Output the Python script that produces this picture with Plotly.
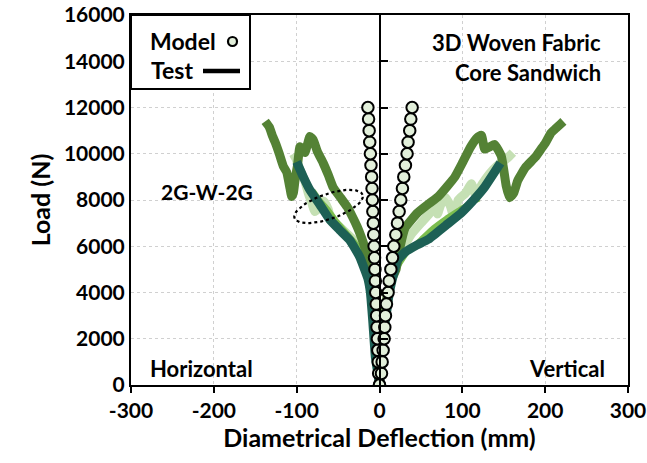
import math
import plotly.graph_objects as go

# ---------------- data ----------------
model_load = [i * 500 for i in range(25)]
model_horiz = [0, -1, -1.5, -2, -2.5, -3, -3.5, -4, -4.5, -5, -5.5, -6, -6.5, -7, -7.5, -8,
               -8.5, -9, -9.5, -10.3, -11, -11.8, -12.5, -13.2, -14]
model_vert = [0, 2.4, 3.2, 4.4, 5.6, 6.4, 7.2, 8.4, 10.4, 11.6, 13.7, 15.7, 17.3, 19.7, 21.7,
              23.7, 25.7, 27.7, 29.3, 31.3, 33.3, 34.5, 36.5, 37.8, 39.4]

# test series (x = deflection mm, y = load N)
light_h_x = [0, -2, -5, -9, -14, -20, -28, -38, -50, -58, -62, -67, -72, -78, -82, -86, -90, -96, -101, -104]
light_h_y = [0, 1000, 2500, 4000, 5000, 5600, 6150, 6500, 6900, 7100, 7600, 7950, 7700, 7500, 7900, 8300, 8800, 9300, 9800, 10000]
light_v_x = [0, 3, 7, 12, 18, 26, 38, 50, 60, 66, 70, 74, 80, 86, 90, 95, 104, 111, 117, 121, 128, 137, 146, 154, 161]
light_v_y = [0, 1500, 3000, 4200, 5000, 5700, 6500, 7000, 7400, 7700, 7400, 7800, 8100, 7700, 7200, 8000, 8300, 8700, 8100, 8500, 8900, 9300, 9600, 9800, 10050]

mid_h_x = [0, -2, -5, -9, -14, -20, -28, -40, -52, -62, -72, -80]
mid_h_y = [0, 1000, 2500, 4000, 5000, 5600, 6100, 6600, 7100, 7600, 8000, 8400]
mid_v_x = [0, 3, 8, 14, 22, 35, 50, 65, 80, 95, 108, 116, 119]
mid_v_y = [0, 1500, 3000, 4300, 5100, 5800, 6300, 6800, 7200, 7550, 7850, 8100, 7900]

olive_h_x = [0, -2, -4, -7, -10, -14, -17, -22, -27, -33, -39, -47, -56, -62, -68, -75, -80, -84,
             -87, -90, -93, -96, -99, -102, -104, -106, -108, -112, -116, -121, -126, -129, -133, -138]
olive_h_y = [0, 1000, 2000, 3000, 4000, 4850, 5850, 6400, 6850, 7300, 7700, 8100, 8550, 9100, 9600,
             10100, 10600, 10750, 10400, 10050, 10200, 10300, 9500, 8850, 8300, 8150, 8500, 9200, 9450,
             10000, 10500, 10750, 11150, 11400]
olive_v_x = [0, 1, 3, 6, 10, 15, 20, 25, 31, 46, 60, 71, 82, 91, 100, 110, 118, 123, 127, 133, 139,
             147, 150, 153, 157, 162, 167, 176, 188, 195, 200, 207, 213, 219, 222]
olive_v_y = [0, 1000, 2000, 3000, 4000, 4600, 5000, 6000, 6800, 7450, 7850, 8150, 8600, 9000, 9600,
             10300, 10700, 10800, 10200, 10300, 10400, 9900, 9300, 8600, 8100, 8300, 8850, 9400, 9850,
             10200, 10450, 10900, 11100, 11300, 11400]

teal_h_x = [0, -2, -5, -8, -11, -14, -18, -24, -36, -48, -60, -72, -84, -92, -100]
teal_h_y = [0, 500, 1200, 2700, 4000, 4600, 5000, 5550, 6270, 6700, 7150, 7800, 8430, 9000, 9650]
teal_v_x = [0, 2, 4, 8, 12, 17, 22, 31, 45, 59, 80, 99, 115, 127, 137, 146]
teal_v_y = [0, 1000, 2000, 3000, 4000, 4800, 5400, 5750, 6050, 6300, 6900, 7450, 8050, 8560, 9100, 9600]

x_ticks = [-300, -200, -100, 0, 100, 200, 300]
y_ticks = [0, 2000, 4000, 6000, 8000, 10000, 12000, 14000, 16000]

# ---------------- styling ----------------
FONT = "Lato"
W, H = 647, 463
ML, MR, MT, MB = 131, 19, 15, 78
XR = [-300, 300]
YR = [0, 16000]

C_LIGHT = "#c5e0b4"
C_MID = "#7cbd4f"
C_OLIVE = "#548235"
C_TEAL = "#1d6055"
C_MODEL = "#e2efda"
C_GRID = "#d0d0d0"

fig = go.Figure()

def add_line(x, y, color, width):
    fig.add_trace(go.Scatter(x=x, y=y, mode="lines", showlegend=False,
                             line=dict(color=color, width=width, shape="spline", smoothing=0.4),
                             hoverinfo="skip"))

for (hx, hy, vx, vy, c, w) in [
    (light_h_x, light_h_y, light_v_x, light_v_y, C_LIGHT, 9),
    (mid_h_x, mid_h_y, mid_v_x, mid_v_y, C_MID, 5),
    (olive_h_x, olive_h_y, olive_v_x, olive_v_y, C_OLIVE, 9),
    (teal_h_x, teal_h_y, teal_v_x, teal_v_y, C_TEAL, 9),
]:
    add_line(hx, hy, c, w)
    add_line(vx, vy, c, w)

for mx in (model_horiz, model_vert):
    fig.add_trace(go.Scatter(x=mx, y=model_load, mode="markers", showlegend=False,
                             marker=dict(symbol="circle", size=11.5, color=C_MODEL,
                                         line=dict(color="black", width=2))))

# dotted ellipse annotation (built in pixel space, converted to data units)
pw = W - ML - MR
ph = H - MT - MB
px_per_x = pw / (XR[1] - XR[0])
px_per_y = ph / (YR[1] - YR[0])
cx, cy = -61.5, 7720
a, b, ang = 36, 12.5, math.radians(19)
ex, ey = [], []
for k in range(73):
    t = 2 * math.pi * k / 72
    dx = a * math.cos(t) * math.cos(ang) - b * math.sin(t) * math.sin(ang)
    dy = a * math.cos(t) * math.sin(ang) + b * math.sin(t) * math.cos(ang)
    ex.append(cx + dx / px_per_x)
    ey.append(cy + dy / px_per_y)
fig.add_trace(go.Scatter(x=ex, y=ey, mode="lines", showlegend=False, hoverinfo="skip",
                         line=dict(color="black", width=2.2, dash="dot")))

# y axis line drawn at x = 0 (secondary overlaying axis)
fig.add_trace(go.Scatter(x=[0], y=[0], yaxis="y2", mode="markers", showlegend=False,
                         marker=dict(size=0.1, opacity=0), hoverinfo="skip"))

fig.update_layout(
    width=W, height=H,
    margin=dict(l=ML, r=MR, t=MT, b=MB, autoexpand=False),
    paper_bgcolor="white", plot_bgcolor="white",
    font=dict(family=FONT, size=20, color="black"),
    xaxis=dict(range=XR, tickvals=x_ticks, ticktext=[str(v) for v in x_ticks], automargin=False,
               showgrid=True, gridcolor=C_GRID, griddash="dot", gridwidth=1,
               zeroline=False, showline=True, linecolor="black", linewidth=2, mirror=True,
               ticks="outside", ticklen=6, tickwidth=2, tickcolor="black",
               tickfont=dict(family=FONT, size=21, weight="bold"),
               title=dict(text="<b>Diametrical Deflection (mm)</b>", standoff=2,
                          font=dict(family=FONT, size=25))),
    yaxis=dict(range=YR, tickvals=y_ticks, ticktext=[str(v) for v in y_ticks], automargin=False,
               showgrid=True, gridcolor=C_GRID, griddash="dot", gridwidth=1,
               zeroline=False, showline=True, linecolor="black", linewidth=2, mirror=True,
               ticks="", tickfont=dict(family=FONT, size=21, weight="bold"),
               title=dict(text="<b>Load (N)</b>", standoff=6,
                          font=dict(family=FONT, size=25))),
    yaxis2=dict(range=YR, overlaying="y", anchor="free", position=0.5, side="left",
                automargin=False,
                tickvals=y_ticks, showticklabels=False, showgrid=False, zeroline=False,
                showline=True, linecolor="black", linewidth=2,
                ticks="inside", ticklen=7, tickwidth=2, tickcolor="black"),
)

def px_x(p):
    return (p - ML) / pw

def px_y(p):
    return (H - MB - p) / ph

shapes = [
    dict(type="rect", xref="paper", yref="paper", x0=0, x1=px_x(250), y0=px_y(89), y1=1,
         line=dict(color="black", width=2), fillcolor="white", layer="above"),
    dict(type="line", xref="paper", yref="paper", x0=px_x(203), x1=px_x(240), y0=px_y(71), y1=px_y(71),
         line=dict(color="black", width=4.5), layer="above"),
    dict(type="circle", xref="paper", yref="paper", xsizemode="pixel", ysizemode="pixel",
         xanchor=px_x(232.5), yanchor=px_y(41.5), x0=-4.5, x1=4.5, y0=-4.5, y1=4.5,
         line=dict(color="black", width=2.2), fillcolor=C_MODEL, layer="above"),
]
fig.update_layout(shapes=shapes)

def txt(text, x, y, xanchor, size=22):
    fig.add_annotation(text="<b>%s</b>" % text, xref="paper", yref="paper", x=x, y=y,
                       xanchor=xanchor, yanchor="middle", showarrow=False,
                       font=dict(family=FONT, size=size, color="black"))

txt("Model", px_x(148), px_y(41), "left", 23)
txt("Test", px_x(149), px_y(70), "left", 23)
txt("3D Woven Fabric", px_x(603), px_y(42), "right", 22)
txt("Core Sandwich", px_x(603), px_y(72), "right", 22)
txt("Horizontal", px_x(148), px_y(368), "left", 22)
txt("Vertical", px_x(607), px_y(368), "right", 22)
txt("2G-W-2G", px_x(207), px_y(191), "center", 21)

fig.write_html("out.html")
